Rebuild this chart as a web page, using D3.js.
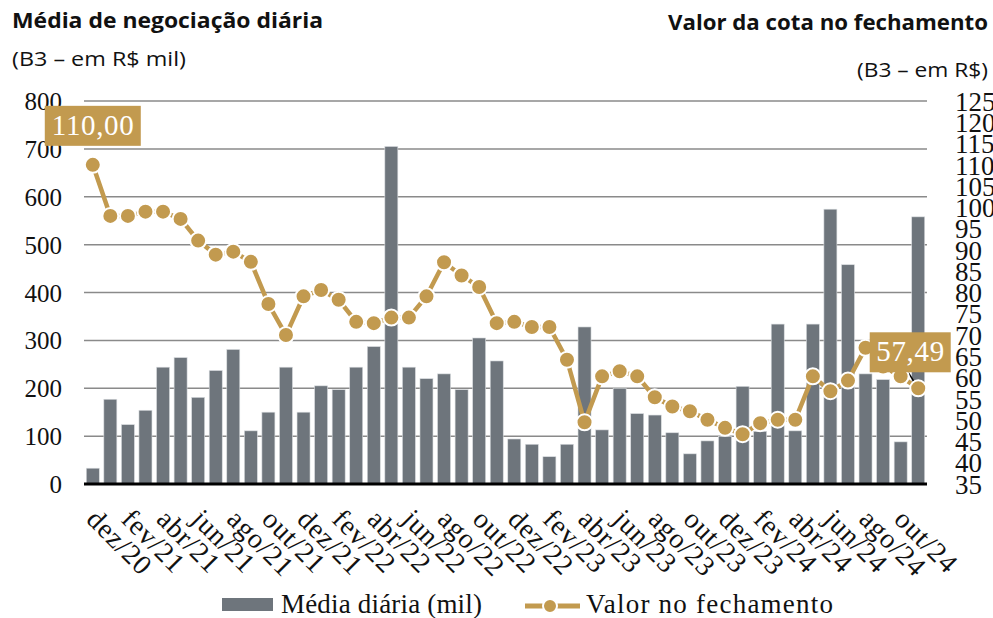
<!DOCTYPE html>
<html>
<head>
<meta charset="utf-8">
<script src="https://cdn.jsdelivr.net/npm/d3@7"></script>
<style>
  body { margin: 0; background: #fff; }
  svg { display: block; }
</style>
</head>
<body>
<div id="chart"></div>
<script>
const months = [
  "dez/20", "jan/21", "fev/21", "mar/21", "abr/21", "mai/21", "jun/21", "jul/21",
  "ago/21", "set/21", "out/21", "nov/21", "dez/21", "jan/22", "fev/22", "mar/22",
  "abr/22", "mai/22", "jun/22", "jul/22", "ago/22", "set/22", "out/22", "nov/22",
  "dez/22", "jan/23", "fev/23", "mar/23", "abr/23", "mai/23", "jun/23", "jul/23",
  "ago/23", "set/23", "out/23", "nov/23", "dez/23", "jan/24", "fev/24", "mar/24",
  "abr/24", "mai/24", "jun/24", "jul/24", "ago/24", "set/24", "out/24", "nov/24"
];

// média diária de negociação (R$ mil)
const mediaDiaria = [
  33, 177, 124, 154, 244, 264, 181, 237, 281, 111, 150, 244,
  150, 205, 197, 244, 287, 705, 244, 220, 230, 197, 305, 257,
  94, 83, 57, 83, 328, 113, 200, 147, 144, 107, 63, 90,
  99, 204, 110, 334, 111, 334, 574, 458, 230, 218, 88, 558
];

// valor da cota no fechamento (R$)
const valorFechamento = [
  110.00, 98.0, 98.0, 99.0, 99.0, 97.3, 92.2, 88.9, 89.6, 87.2, 77.3, 70.0,
  79.1, 80.6, 78.3, 73.1, 72.8, 74.1, 74.1, 79.1, 87.1, 84.0, 81.3, 72.8,
  73.1, 71.9, 71.9, 64.2, 49.5, 60.3, 61.5, 60.3, 55.4, 53.2, 52.1, 50.1,
  48.2, 46.7, 49.3, 50.1, 50.1, 60.3, 56.8, 59.3, 67.0, 62.6, 60.3, 57.49
];

const leftTicks = [0, 100, 200, 300, 400, 500, 600, 700, 800];
const rightTicks = d3.range(35, 126, 5);
const xTickLabels = months.filter((d, i) => i % 2 === 0);

const W = 993, H = 618;
const GOLD = "#c29a4f", GRAY = "#6e757c";
const SERIF = "'Liberation Serif', 'DejaVu Serif', serif";
const SANS = "'Open Sans', 'Noto Sans', sans-serif";

const svg = d3.select("#chart").append("svg")
  .attr("width", W)
  .attr("height", H);

svg.append("rect").attr("width", W).attr("height", H).attr("fill", "#fff");

const x = d3.scaleBand().domain(months).range([84, 927]).paddingInner(0.26).paddingOuter(0.13);
const yL = d3.scaleLinear().domain([0, 800]).range([484, 101]);
const yR = d3.scaleLinear().domain([35, 125]).range([484, 101]);
const cx = d => x(d) + x.bandwidth() / 2;

// titles
function title(tx, ty, anchor, bold, size, len, str) {
  svg.append("text").attr("x", tx).attr("y", ty)
    .attr("text-anchor", anchor)
    .attr("font-family", SANS)
    .attr("font-weight", bold ? "bold" : "normal")
    .attr("font-size", size)
    .attr("textLength", len)
    .attr("lengthAdjust", "spacingAndGlyphs")
    .attr("fill", "#111")
    .text(str);
}
title(12, 28, "start", true, 21, 311, "Média de negociação diária");
title(12, 66, "start", false, 20, 174, "(B3 – em R$ mil)");
title(988, 30, "end", true, 21, 320, "Valor da cota no fechamento");
title(988, 77, "end", false, 20, 131, "(B3 – em R$)");

// gridlines
svg.append("g")
  .selectAll("line")
  .data(leftTicks.slice(1))
  .enter()
  .append("line")
  .attr("x1", 84).attr("x2", 927)
  .attr("y1", d => yL(d)).attr("y2", d => yL(d))
  .style("stroke", "#8a8a8a")
  .style("stroke-width", "1.5px");

// left axis
const leftAxis = svg.append("g")
  .attr("transform", "translate(62,0)")
  .call(d3.axisLeft(yL).tickValues(leftTicks).tickSize(0).tickPadding(0));
leftAxis.select(".domain").remove();
leftAxis.selectAll("text")
  .attr("font-family", SERIF).attr("font-size", 25).attr("fill", "#111")
  .attr("dy", "0.34em");

// right axis
const rightAxis = svg.append("g")
  .attr("transform", "translate(955,0)")
  .call(d3.axisRight(yR).tickValues(rightTicks).tickSize(0).tickPadding(0));
rightAxis.select(".domain").remove();
rightAxis.selectAll("text")
  .attr("font-family", SERIF).attr("font-size", 27).attr("fill", "#111")
  .attr("dy", "0.34em");

// bars
svg.append("g")
  .selectAll("rect")
  .data(months)
  .enter()
  .append("rect")
  .attr("x", d => x(d))
  .attr("width", x.bandwidth())
  .attr("y", (d, i) => yL(mediaDiaria[i]))
  .attr("height", (d, i) => yL(0) - yL(mediaDiaria[i]))
  .attr("fill", GRAY)
  .style("stroke", "#d9dcdf")
  .style("stroke-width", "0.6px");

// baseline
svg.append("line")
  .attr("x1", 84).attr("x2", 927)
  .attr("y1", 484).attr("y2", 484)
  .style("stroke", "#000")
  .style("stroke-width", "3px");

// x axis labels
const xAxis = svg.append("g")
  .call(d3.axisBottom(x).tickValues(xTickLabels).tickSize(0).tickPadding(0));
xAxis.select(".domain").remove();
xAxis.selectAll(".tick")
  .attr("transform", d => "translate(" + (cx(d) + 6) + ",507)");
xAxis.selectAll("text")
  .attr("font-family", SERIF).attr("font-size", 28).attr("fill", "#111")
  .attr("letter-spacing", "0.8px")
  .attr("text-anchor", "start")
  .attr("y", 0).attr("dy", "0.7em")
  .attr("transform", "rotate(45)");

// line
const line = d3.line()
  .x((d, i) => cx(months[i]))
  .y(d => yR(d));

svg.append("path")
  .datum(valorFechamento)
  .attr("d", line)
  .attr("fill", "none")
  .style("stroke", GOLD)
  .style("stroke-width", "4.5px");

// leader line for the last label
const last = valorFechamento.length - 1;
svg.append("line")
  .attr("x1", cx(months[last]) - 10).attr("y1", yR(valorFechamento[last]) - 16)
  .attr("x2", cx(months[last])).attr("y2", yR(valorFechamento[last]))
  .style("stroke", "#000")
  .style("stroke-width", "1.5px");

svg.append("g")
  .selectAll("circle")
  .data(valorFechamento)
  .enter()
  .append("circle")
  .attr("cx", (d, i) => cx(months[i]))
  .attr("cy", d => yR(d))
  .attr("r", 8)
  .attr("fill", GOLD)
  .style("stroke", "#fff")
  .style("stroke-width", "2px");

// value labels
const fmt = v => v.toFixed(2).replace(".", ",");
const labels = [
  { i: 0, dx: 0, bottom: 19, w: 96, tl: 82 },
  { i: last, dx: -8, bottom: 16, w: 81, tl: 68 }
];
labels.forEach(l => {
  const px = cx(months[l.i]) + l.dx;
  const py = yR(valorFechamento[l.i]) - l.bottom;
  svg.append("rect")
    .attr("x", px - l.w / 2).attr("y", py - 40)
    .attr("width", l.w).attr("height", 40)
    .attr("fill", GOLD);
  svg.append("text")
    .attr("x", px).attr("y", py - 11)
    .attr("text-anchor", "middle")
    .attr("font-family", SERIF).attr("font-size", 29)
    .attr("textLength", l.tl)
    .attr("fill", "#fff")
    .text(fmt(valorFechamento[l.i]));
});

// legend
const legend = svg.append("g");
legend.append("rect")
  .attr("x", 222).attr("y", 598).attr("width", 51).attr("height", 13)
  .attr("fill", GRAY);
legend.append("text")
  .attr("x", 281).attr("y", 613)
  .attr("font-family", SERIF).attr("font-size", 27).attr("fill", "#111")
  .attr("textLength", 201)
  .text("Média diária (mil)");
legend.append("line")
  .attr("x1", 525).attr("x2", 580).attr("y1", 606).attr("y2", 606)
  .style("stroke", GOLD).style("stroke-width", "5px");
legend.append("circle")
  .attr("cx", 550).attr("cy", 606).attr("r", 7)
  .attr("fill", GOLD).style("stroke", "#fff").style("stroke-width", "2px");
legend.append("text")
  .attr("x", 586).attr("y", 613)
  .attr("font-family", SERIF).attr("font-size", 27).attr("fill", "#111")
  .attr("textLength", 247)
  .text("Valor no fechamento");
</script>
</body>
</html>
